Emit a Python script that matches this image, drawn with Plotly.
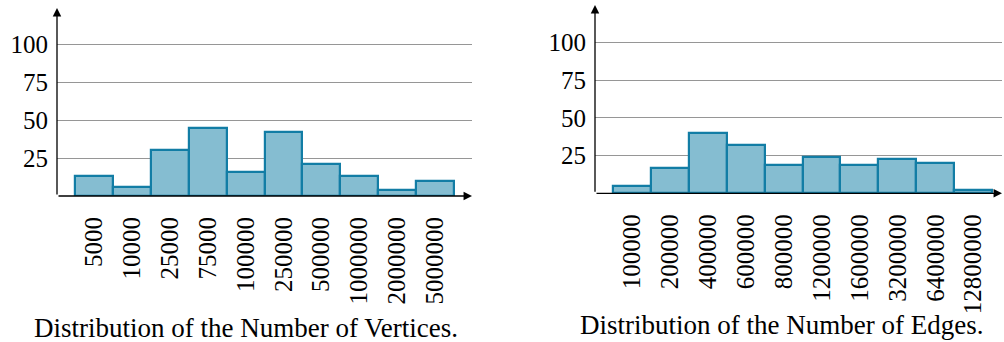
import plotly.graph_objects as go

vert_labels = ["5000", "10000", "25000", "75000", "100000", "250000", "500000", "1000000", "2000000", "5000000"]
vert_counts = [13, 6, 30, 45, 16, 42, 21, 13, 4, 10]

edge_labels = ["100000", "200000", "400000", "600000", "800000", "1200000", "1600000", "3200000", "6400000", "12800000"]
edge_counts = [5, 17, 40, 32, 19, 24, 19, 23, 20, 2]

y_ticks = [25, 50, 75, 100]

FILL = "rgb(133,189,209)"
EDGE = "rgb(18,125,165)"
FONT = "Liberation Serif"
FS = 27      # title size
TFS = 25     # tick label size

W, H = 1004, 342

fig = go.Figure()
fig.add_trace(go.Bar(x=list(range(len(vert_counts))), y=vert_counts, width=1,
                     marker=dict(color=FILL, line=dict(color=EDGE, width=2.2)),
                     xaxis="x", yaxis="y", showlegend=False))
fig.add_trace(go.Bar(x=list(range(len(edge_counts))), y=edge_counts, width=1,
                     marker=dict(color=FILL, line=dict(color=EDGE, width=2.2)),
                     xaxis="x2", yaxis="y2", showlegend=False))

# pixel geometry
L = dict(x0=57, x1=472, ybase=196, ytop=8, xr=[-0.975, 9.975], yr=[0, 123.7])
R = dict(x0=595, x1=1002, ybase=193.3, ytop=5, xr=[-0.966, 9.755], yr=[0, 124.7])

def xdom(g):
    return [g["x0"] / W, g["x1"] / W]

def ydom(g):
    return [(H - g["ybase"]) / H, (H - g["ytop"]) / H]

axis_common = dict(showline=False, zeroline=False, fixedrange=True, tickfont=dict(size=TFS))

fig.update_layout(
    width=W, height=H, margin=dict(l=0, r=0, t=0, b=0),
    paper_bgcolor="white", plot_bgcolor="white",
    bargap=0,
    font=dict(family=FONT, size=FS, color="black"),
    xaxis=dict(domain=xdom(L), range=L["xr"], tickvals=list(range(10)), ticktext=vert_labels,
               tickangle=-90, showgrid=False, ticklabelstandoff=15, anchor="y", **axis_common),
    yaxis=dict(domain=ydom(L), range=L["yr"], tickvals=y_ticks, showgrid=True,
               gridcolor="rgb(150,150,150)", gridwidth=1, ticklabelstandoff=8, anchor="x", **axis_common),
    xaxis2=dict(domain=xdom(R), range=R["xr"], tickvals=list(range(10)), ticktext=edge_labels,
                tickangle=-90, showgrid=False, ticklabelstandoff=15, anchor="y2", **axis_common),
    yaxis2=dict(domain=ydom(R), range=R["yr"], tickvals=y_ticks, showgrid=True,
                gridcolor="rgb(150,150,150)", gridwidth=1, ticklabelstandoff=8, anchor="x2", **axis_common),
)

ann = []
for xa, ya, g in (("x", "y", L), ("x2", "y2", R)):
    ann.append(dict(xref=xa, yref=ya, axref=xa, ayref=ya, x=g["xr"][1], y=0, ax=g["xr"][0], ay=0,
                    showarrow=True, arrowhead=2, arrowsize=1.3, arrowwidth=1.3, arrowcolor="black", text=""))
    ann.append(dict(xref=xa, yref=ya, axref=xa, ayref=ya, x=g["xr"][0], y=g["yr"][1], ax=g["xr"][0], ay=0,
                    showarrow=True, arrowhead=2, arrowsize=1.3, arrowwidth=1.3, arrowcolor="black", text=""))

ann.append(dict(xref="paper", yref="paper", x=245.5 / W, y=(H - 328) / H, xanchor="center", yanchor="middle",
                text="Distribution of the Number of Vertices.", showarrow=False, font=dict(size=FS)))
ann.append(dict(xref="paper", yref="paper", x=781 / W, y=(H - 325) / H, xanchor="center", yanchor="middle",
                text="Distribution of the Number of Edges.", showarrow=False, font=dict(size=FS)))
fig.update_layout(annotations=ann)

fig.write_html("out.html", config={"displayModeBar": False},
               post_script="document.body.style.margin='0';document.body.style.overflow='hidden';")
